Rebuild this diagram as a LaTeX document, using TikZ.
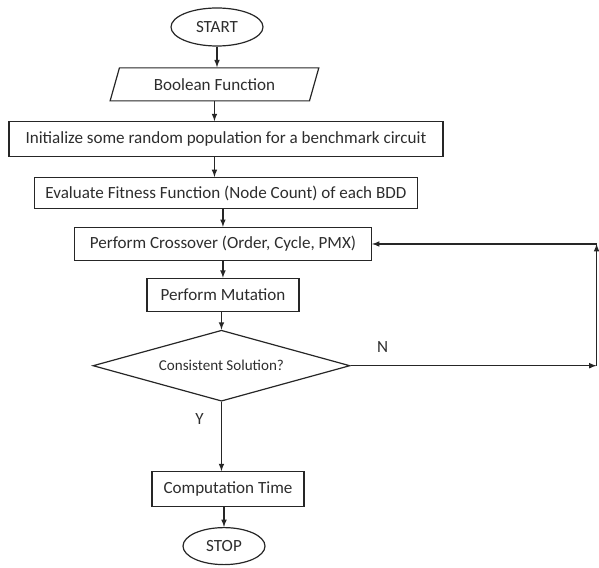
\documentclass[tikz,border=0pt]{standalone}
\usepackage{fontspec}
\setmainfont{Carlito}
\usetikzlibrary{positioning,arrows,shapes.geometric}
\definecolor{textgray}{RGB}{45,45,45}
\tikzset{
  block/.style={
    draw,
    rectangle,
    minimum height=24.75pt,
    inner sep=2pt,
    align=center
  },
  terminal/.style={
    draw,
    ellipse,
    inner sep=0pt,
    align=center
  },
  io/.style={
    draw,
    trapezium,
    trapezium left angle=73,
    trapezium right angle=107,
    trapezium stretches=true,
    minimum width=156.75pt,
    minimum height=24.75pt
  },
  decision/.style={
    draw,
    diamond,
    aspect=3.6,
    inner sep=1pt,
    minimum width=192.75pt,
    minimum height=53.25pt,
    font=\fontsize{11.3}{13}\selectfont
  },
  line/.style={->,>=latex}
}
\begin{document}
\begin{tikzpicture}[line width=0.9pt, draw=black!85, text=textgray, font=\fontsize{12.8}{15}\selectfont]
\useasboundingbox (0,0) rectangle (449.25pt,-425.25pt);

					\node[terminal, minimum width=69pt, minimum height=28.5pt] (start) at (162.75pt,-20.25pt) {START};

					\node[io, below = 15.5pt of start, xshift=-1.9pt] (boolean_function) {Boolean Function};
					\draw[line] (start.south) -- (start.south |- boolean_function.north);

					% population
					\node[block, minimum width=325.5pt, minimum height=26.25pt, below = 14.75pt of boolean_function, xshift=8.6pt] (init_population) {Initialize some random population for a benchmark circuit};
					\draw[line] (boolean_function.south) -- (boolean_function.south |- init_population.north);

					\node[block, minimum width=287.25pt, minimum height=23.25pt, below = 14.75pt of init_population] (evaluate_fitness) {Evaluate Fitness Function (Node Count) of each BDD};
					\draw[line] (boolean_function.south |- init_population.south) -- (boolean_function.south |- evaluate_fitness.north);

					% GA operators
					\node[block, minimum width=222.75pt, below = 13.25pt of evaluate_fitness, xshift=-2.25pt] (crossover) {Perform Crossover (Order, Cycle, PMX)};
					\draw[line] (crossover.north |- evaluate_fitness.south) -- (crossover.north);

					\node[block, minimum width=114pt, below = 12.5pt of crossover] (mutation) {Perform Mutation};
					\draw[line] (crossover.south) -- (crossover.south |- mutation.north);

					% check
					\node[decision, below = 13.25pt of mutation, xshift=-1.1pt] (consistent) {Consistent Solution?};
					\draw[line] (consistent.north |- mutation.south) -- (consistent.north);

					\node[block, minimum width=114pt, minimum height=26.25pt, below = 52pt of consistent, xshift=4.9pt] (computation_time) {Computation Time};
					\draw[line] (consistent.south) -- (consistent.south |- computation_time.north) node [pos=0.25, left=9.5pt] {Y};

					\node[terminal, minimum width=61.5pt, minimum height=27.75pt, below = 14.75pt of computation_time, xshift=-3pt] (stop) {STOP};
					\draw[line] (stop.north |- computation_time.south) -- (stop.north);

					% loop back
					\coordinate[right = 184.5pt of consistent.east] (loop_bottom);
					\coordinate (loop_top) at (loop_bottom |- crossover.east);
					\draw[line] (consistent.east) -- (loop_bottom) node [pos=0.13, above=6pt] {N};
					\draw[line] (loop_bottom) -- (loop_top);
					\draw[line] (loop_top) -- (crossover.east);

				\end{tikzpicture}
\end{document}
